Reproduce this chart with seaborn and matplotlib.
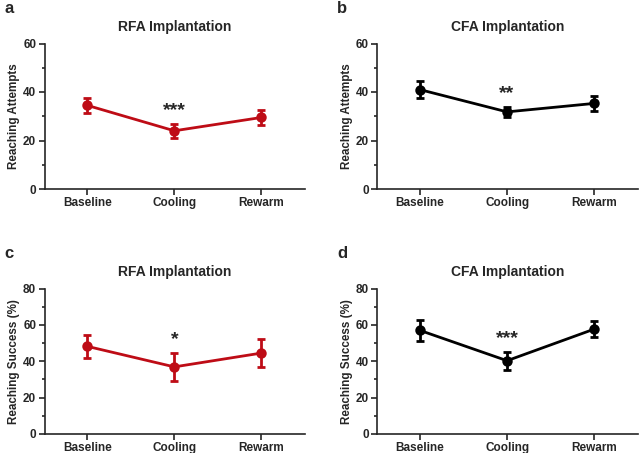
import matplotlib
matplotlib.use("Agg")
import matplotlib.pyplot as plt
from matplotlib import font_manager
import seaborn as sns
import pandas as pd
from matplotlib.ticker import MultipleLocator

# conditions on the x axis
conditions = ["Baseline", "Cooling", "Rewarm"]

# reaching attempts (mean, sem)
rfa_attempts = [34.5, 24.0, 29.5]
rfa_attempts_sem = [3.0, 2.8, 3.1]
cfa_attempts = [41.0, 31.8, 35.3]
cfa_attempts_sem = [3.4, 2.2, 3.0]

# reaching success % (mean, sem)
rfa_success = [48.2, 36.9, 44.5]
rfa_success_sem = [6.3, 7.6, 7.7]
cfa_success = [57.0, 40.3, 57.7]
cfa_success_sem = [5.9, 5.0, 4.3]

# significance marks over Cooling
stars = ["***", "**", "*", "***"]

# keep the narrow variant of Liberation Sans out of the font matching
font_manager.fontManager.ttflist = [f for f in font_manager.fontManager.ttflist
                                    if "Narrow" not in f.fname]
font_manager.fontManager._findfont_cached.cache_clear()

sns.set_style("ticks")
plt.rcParams["font.family"] = ["Liberation Sans", "DejaVu Sans"]
plt.rcParams["font.weight"] = "bold"

fig = plt.figure(figsize=(6.4, 4.53), dpi=100)
W, H = 640, 453
red = "#BE0C16"

def px_axes(l, r, top, bot):
    return fig.add_axes([l / W, 1 - bot / H, (r - l) / W, (bot - top) / H])

panels = [
    ("a", "RFA Implantation", rfa_attempts, rfa_attempts_sem, red, "Reaching Attempts", 60, stars[0],
     (44.5, 305, 43.5, 189)),
    ("b", "CFA Implantation", cfa_attempts, cfa_attempts_sem, "black", "Reaching Attempts", 60, stars[1],
     (377, 638, 43.5, 189)),
    ("c", "RFA Implantation", rfa_success, rfa_success_sem, red, "Reaching Success (%)", 80, stars[2],
     (44.5, 305, 288.5, 434)),
    ("d", "CFA Implantation", cfa_success, cfa_success_sem, "black", "Reaching Success (%)", 80, stars[3],
     (377, 638, 288.5, 434)),
]

for letter, title, means, sems, color, ylabel, ymax, star, box in panels:
    ax = px_axes(*box)
    df = pd.DataFrame({"condition": conditions, "value": means})
    sns.pointplot(data=df, x="condition", y="value", color=color, errorbar=None,
                  markers="o", markersize=6, linewidth=2, ax=ax)
    ax.errorbar(range(len(conditions)), means, yerr=sems, fmt="none", ecolor=color,
                elinewidth=2, capsize=3, capthick=2)
    # significance stars above the cooling error bar
    ax.text(1, means[1] + sems[1] + 2.0 * ymax / 60, star, ha="center", va="bottom",
            fontsize=14, fontweight="bold")

    ax.set_xlim(-0.49, 2.5)
    ax.set_ylim(0, ymax)
    ax.yaxis.set_major_locator(MultipleLocator(20))
    ax.yaxis.set_minor_locator(MultipleLocator(10))
    ax.tick_params(axis="both", which="major", length=4, width=1.2, labelsize=8.5, pad=2)
    ax.tick_params(axis="y", which="minor", length=2.5, width=1.2)
    for lab in ax.get_xticklabels() + ax.get_yticklabels():
        lab.set_fontweight("bold")
    sns.despine(ax=ax)
    for s in ["left", "bottom"]:
        ax.spines[s].set_linewidth(1.2)
    ax.set_xlabel("")
    ax.set_ylabel(ylabel, fontsize=8.4, fontweight="bold", labelpad=2)
    ax.set_title(title, fontsize=10, fontweight="bold", pad=9)

    x0 = box[0] - 40
    fig.text(x0 / W, 1 - (box[2] - 35) / H, letter, fontsize=12, fontweight="bold",
             ha="left", va="center")

fig.savefig("out.png", dpi=100)
